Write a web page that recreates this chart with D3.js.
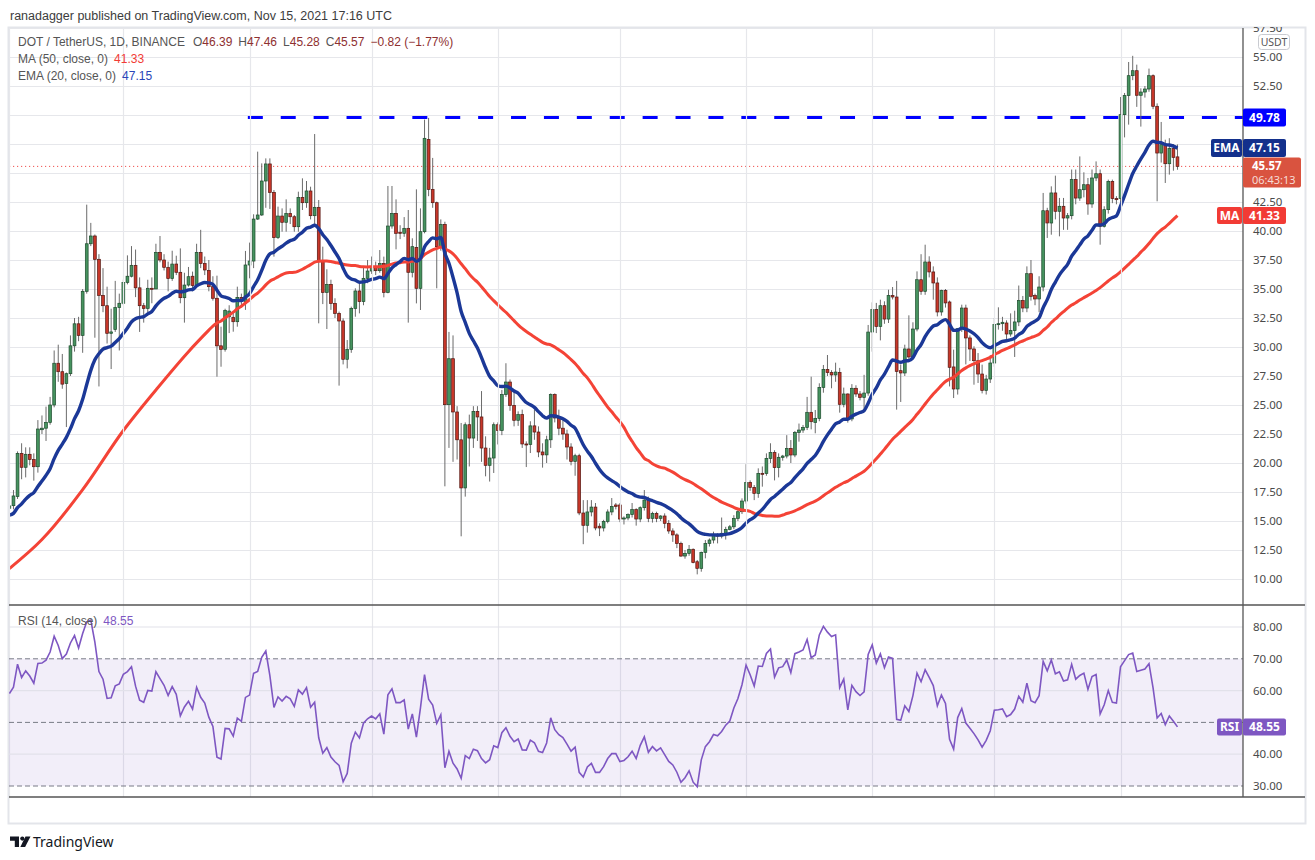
<!DOCTYPE html>
<html><head><meta charset="utf-8">
<script src="https://cdn.jsdelivr.net/npm/d3@7"></script>
<style>
body{margin:0;background:#fff;}
text{font-family:"Noto Sans","Open Sans",sans-serif;}
.lib{font-family:"Liberation Sans","Noto Sans",sans-serif;}
</style>
</head><body>
<svg id="c" width="1315" height="860"></svg>
<script>
// ---------------- DATA ----------------
const startDate = "2021-02-01";
const opens = [
16.1,16.32,17.1,20.83,19.63,20.75,20.3,19.68,22.87,23.0,
23.5,25.0,28.6,27.87,26.85,27.7,30.1,32.0,31.0,34.8,
38.9,39.57,37.56,34.45,33.56,31.18,31.5,33.4,33.77,35.57,
36.1,37.04,35.1,33.56,33.33,35.06,35.0,38.16,37.5,36.87,
35.9,37.15,36.44,34.25,35.34,36.1,35.3,38.16,37.2,36.6,
35.2,34.2,30.1,29.8,32.6,32.56,32.18,34.28,33.91,37.07,
37.41,41.03,41.38,44.31,45.78,43.33,39.43,41.29,40.75,41.52,
41.23,40.37,42.9,42.44,43.45,41.32,42.04,37.36,34.71,35.4,
33.76,32.9,32.24,28.94,29.8,33.33,34.83,33.91,35.92,36.55,
36.93,36.58,37.21,34.71,40.43,41.52,39.89,39.8,40.23,36.44,
38.59,35.06,39.94,47.9,43.59,42.44,38.65,40.57,25.03,28.99,
24.4,22.0,17.85,23.3,22.15,24.45,23.97,21.29,19.8,20.43,
23.3,22.8,25.9,26.98,24.97,23.68,24.17,21.64,21.6,23.2,
22.67,20.95,20.7,22.0,25.9,23.88,23.0,22.5,21.38,20.14,
20.63,15.69,14.63,15.78,16.2,14.55,14.4,14.97,15.78,16.38,
16.38,15.17,15.26,15.55,15.98,15.17,16.15,16.81,15.23,15.66,
15.23,15.43,14.8,14.14,13.8,13.07,11.98,12.21,12.56,11.49,
10.92,12.3,13.07,13.36,13.79,13.7,13.94,14.28,14.5,15.23,
15.8,16.72,18.33,17.9,17.38,19.11,19.1,20.4,20.9,19.6,
20.49,20.6,21.26,20.69,22.64,22.84,23.07,24.37,23.5,23.85,
26.52,28.07,27.79,27.59,27.8,25.06,25.95,23.8,26.44,25.95,
25.66,26.03,31.29,33.22,31.78,33.56,32.41,34.43,34.31,27.96,
27.76,29.83,29.14,31.55,35.8,34.8,37.33,36.47,35.52,33.02,
34.86,33.88,28.28,26.38,31.58,33.36,30.78,29.83,28.82,27.67,
26.26,27.24,28.62,31.93,32.01,32.07,31.12,31.41,32.16,34.0,
33.36,36.32,34.43,34.14,35.17,41.75,40.69,43.28,41.7,42.13,
41.12,41.32,44.43,42.84,43.56,43.99,42.33,44.57,44.94,40.4,
41.84,44.28,42.79,42.79,50.03,51.67,53.39,53.82,51.7,51.98,
52.24,53.39,50.75,46.72,47.44,45.8,47.1,46.39];
const highs = [
16.5,17.67,21.0,21.7,21.35,21.35,20.83,23.7,24.1,24.86,
25.7,29.7,30.2,29.4,27.8,31.0,32.5,32.6,35.0,42.27,
40.7,39.7,38.0,36.8,35.2,33.3,35.7,34.6,35.8,37.9,
38.7,38.4,36.0,33.8,35.8,36.0,38.9,39.57,38.0,37.36,
38.3,37.87,38.5,36.4,36.9,36.5,38.9,40.1,37.8,37.5,
36.1,36.15,31.75,33.3,33.6,33.05,35.2,34.6,38.28,39.0,
41.44,46.84,45.83,46.26,46.26,43.53,42.1,41.95,42.73,41.95,
41.38,43.39,44.54,44.31,43.82,48.36,42.67,38.65,36.7,35.8,
34.2,33.05,32.47,30.6,33.48,35.06,35.49,36.9,37.5,37.8,
37.36,38.36,37.79,43.88,43.88,42.73,40.5,41.2,41.81,39.37,
43.59,41.95,49.6,49.75,46.3,42.53,41.0,40.8,31.3,31.0,
24.9,23.45,23.5,24.17,24.9,24.9,26.2,22.3,21.3,23.5,
23.5,26.3,28.6,27.2,26.3,24.45,24.6,21.87,23.6,24.6,
23.16,21.7,22.35,26.0,26.0,24.6,23.7,22.87,21.7,20.8,
20.8,16.8,16.8,16.8,16.55,14.8,15.1,16.0,16.98,16.55,
16.55,15.4,15.66,16.55,16.1,16.26,17.67,17.1,15.8,15.8,
15.5,15.66,15.08,14.37,13.94,13.22,12.5,12.93,12.64,11.64,
12.36,13.36,13.5,14.08,13.94,15.3,14.5,14.66,15.5,15.95,
16.95,19.9,18.5,18.1,19.54,19.7,20.83,21.7,21.1,20.83,
20.7,22.4,21.98,22.76,23.4,23.28,25.7,27.44,24.57,26.87,
28.45,29.31,28.0,28.65,28.2,26.5,26.0,26.8,26.7,26.2,
27.6,31.9,33.85,33.8,34.08,33.94,34.94,35.17,35.7,28.5,
30.2,32.73,32.13,36.52,38.0,38.82,37.82,36.95,36.0,34.94,
35.0,34.0,29.77,31.64,33.65,33.65,31.0,30.06,29.48,28.48,
27.6,29.3,32.5,33.42,32.6,32.3,32.9,33.13,35.3,34.4,
36.95,37.5,34.6,36.1,43.28,42.0,43.85,44.77,42.85,42.85,
41.55,45.3,45.3,46.43,45.06,44.57,45.3,46.0,45.3,42.13,
44.43,44.43,43.0,51.55,51.9,54.57,55.1,54.34,52.3,52.5,
54.0,53.5,51.0,49.4,47.87,48.0,47.5,47.46];
const lows = [
15.8,16.0,16.9,18.6,18.76,19.8,18.48,19.17,22.5,21.9,
23.3,24.8,27.0,26.4,23.1,27.5,29.6,30.5,29.5,34.6,
38.7,30.8,26.6,33.0,30.3,28.1,31.3,29.7,33.6,35.4,
36.0,34.3,31.3,32.1,33.0,33.77,35.0,37.3,36.6,34.8,
35.7,36.2,33.77,32.1,35.2,34.8,35.2,36.8,36.2,34.8,
34.0,27.44,28.3,29.6,31.2,31.32,31.75,33.4,33.2,35.92,
36.8,40.95,41.3,42.0,41.9,37.79,39.31,39.94,39.94,40.6,
39.94,39.94,41.81,42.0,41.0,40.5,32.04,33.7,31.55,33.2,
32.5,26.67,28.5,28.16,29.5,32.61,32.9,33.6,35.5,36.3,
36.2,36.4,34.28,34.63,40.2,38.42,39.3,39.5,32.1,36.0,
33.76,33.19,39.8,43.0,42.0,35.06,38.3,17.99,21.3,20.1,
20.3,13.68,17.1,19.7,21.3,21.9,20.1,18.85,18.4,19.14,
21.6,22.4,25.7,24.5,23.16,23.2,21.3,19.65,20.86,22.0,
20.5,19.6,20.0,21.3,23.5,22.4,22.0,20.3,19.8,18.9,
15.5,13.0,14.0,15.4,14.2,13.7,14.1,14.8,15.5,16.0,
14.9,14.7,15.06,15.3,14.6,14.9,15.9,14.9,14.86,14.9,
15.0,14.37,13.9,13.2,12.66,11.9,11.75,12.0,11.35,10.4,
10.63,11.78,12.8,13.07,13.07,13.5,13.4,14.2,14.3,15.0,
15.6,16.5,17.6,16.8,17.0,17.96,18.9,20.0,18.5,18.76,
20.2,20.4,20.0,20.5,21.84,22.6,22.84,22.9,22.56,23.6,
26.06,27.5,26.44,27.0,24.34,24.8,23.48,23.6,25.7,25.4,
24.4,25.8,29.6,31.2,30.57,32.0,32.07,34.1,24.6,25.26,
27.5,28.7,28.9,31.35,34.5,34.5,36.0,34.08,32.64,32.7,
33.4,26.6,25.6,25.9,31.3,28.5,28.8,26.75,26.9,26.0,
25.9,26.9,28.3,31.5,31.4,30.5,30.9,29.14,31.8,33.0,
33.0,34.0,33.6,33.0,34.8,39.4,39.68,41.0,39.54,40.1,
40.1,41.0,42.3,42.6,42.9,41.4,42.0,44.3,38.82,40.3,
41.5,42.4,42.3,42.5,48.07,49.17,53.0,50.7,49.0,51.5,
52.0,50.5,42.56,45.9,44.14,44.86,45.2,45.28];
const closes = [
16.3,17.16,20.83,19.63,20.75,20.3,19.68,22.93,23.0,23.5,
25.0,28.6,27.87,26.8,27.7,30.1,32.0,31.0,34.8,38.9,
39.57,37.56,34.45,33.56,31.18,31.3,33.4,33.77,35.57,36.1,
37.04,35.1,33.56,33.33,35.06,35.0,38.16,37.5,36.87,35.9,
37.15,36.44,34.25,35.34,36.06,35.3,38.16,37.2,36.64,35.2,
34.2,30.1,29.8,33.16,33.1,32.18,34.28,33.91,37.07,37.41,
41.03,41.38,44.31,45.78,43.33,39.43,41.29,40.75,41.52,41.23,
40.37,42.9,42.44,43.45,41.32,42.04,37.36,34.71,35.4,33.76,
32.9,32.24,28.94,29.8,33.33,34.83,33.91,35.92,36.55,36.93,
36.58,37.21,34.71,40.43,41.52,39.8,39.8,40.23,36.44,38.65,
35.06,39.94,47.99,43.59,42.44,38.65,40.57,25.03,28.99,24.4,
22.0,17.85,23.3,22.15,24.45,23.97,21.29,19.8,20.43,23.3,
22.8,25.9,26.98,24.97,23.68,24.17,21.64,21.6,23.2,22.67,
20.95,20.7,22.0,25.9,23.88,23.0,22.5,21.38,20.14,20.63,
15.69,14.63,15.78,16.2,14.4,14.4,14.97,15.78,16.26,16.26,
15.17,15.26,15.55,15.98,15.17,16.15,16.81,15.23,15.66,15.23,
15.43,14.8,14.14,13.8,13.07,11.98,12.21,12.56,11.41,10.92,
12.3,13.07,13.36,13.79,13.7,13.94,14.28,14.5,15.23,15.8,
16.72,18.33,17.9,17.38,19.1,19.08,20.4,20.9,19.6,20.49,
20.6,21.26,20.69,22.64,22.84,23.07,24.37,23.56,23.85,26.52,
28.07,27.79,27.59,27.84,25.06,25.95,23.8,26.44,25.95,25.66,
26.03,31.29,33.22,31.78,33.56,32.41,34.43,34.31,27.9,27.76,
29.83,29.14,31.55,35.8,34.8,37.33,36.47,35.52,33.02,34.86,
33.8,28.25,26.38,31.58,33.36,30.78,29.83,28.82,27.67,26.26,
27.24,28.62,31.93,32.01,32.13,31.12,31.41,32.16,34.0,33.36,
36.32,34.37,34.14,35.17,41.75,40.69,43.28,41.7,42.13,41.12,
41.32,44.43,42.84,43.56,43.99,42.33,44.57,44.94,40.4,41.84,
44.28,42.79,42.7,50.03,51.67,53.39,53.82,51.7,51.98,52.24,
53.39,50.75,46.72,47.44,45.8,47.1,46.35,45.57];

// MA(50) before enough history exists: points
const maEarlyDates  = ["2021-02-01","2021-02-09","2021-02-19","2021-03-01","2021-03-09","2021-03-17"];
const maEarlyValues = [10.9, 13.4, 17.7, 22.8, 26.3, 29.6];
const emaStart = 15.5;          // EMA(20) value read at the first candle
const rsiSeedGain = 0.75, rsiSeedLoss = 0.52;   // gives RSI ≈ 59 at first candle
const resistanceLevel = 49.78;
const resistanceStart = "2021-03-31T14:00:00Z";

const priceTicks = [10,12.5,15,17.5,20,22.5,25,27.5,30,32.5,35,37.5,40,42.5,45,47.5,50,52.5,55,57.5];
const rsiTicks = [30,40,50,60,70,80];
const rsiDashed = [30,50,70];
const rsiGrid = [40,60,80];
const monthTicks = ["2021-02-01","2021-03-01","2021-04-01","2021-05-01","2021-06-01","2021-07-01","2021-08-01","2021-09-01","2021-10-01","2021-11-01"];

const headerText = "ranadagger published on TradingView.com, Nov 15, 2021 17:16 UTC";
const symbolText = "DOT / TetherUS, 1D, BINANCE";
const ohlcLabels = ["O","H","L","C"];
const ohlcValues = ["46.39","47.46","45.28","45.57"];
const changeText = "\u22120.82 (\u22121.77%)";
const lastMA = 41.33, lastEMA = 47.15, lastPrice = 45.57, lastRSI = 48.55;
const countdown = "06:43:13";

// ---------------- LAYOUT ----------------
const X0 = 9, XR = 1243, XF = 1305, YT = 28, YP = 605, YR = 797, YB = 823;
const parse = d3.utcParse("%Y-%m-%d");
const d0 = parse(startDate);
const dates = closes.map((_, i) => d3.utcDay.offset(d0, i));
const x = d3.scaleUtc().domain([d0, parse("2021-11-01")]).range([9.4, 1120.5]);
const y = d3.scaleLinear().domain([10, 57.5]).range([579, 28]);
const yr = d3.scaleLinear().domain([30, 80]).range([786, 627]);

// indicators
const alpha = 2 / 21;
const ema = [];
closes.forEach((c, i) => ema.push(i === 0 ? emaStart : alpha * c + (1 - alpha) * ema[i - 1]));
const maPts = maEarlyDates.map((d, k) => [parse(d), maEarlyValues[k]]);
for (let i = 49; i < closes.length; i++) maPts.push([dates[i], d3.mean(closes.slice(i - 49, i + 1))]);
const rsi = [];
{ let g = rsiSeedGain, l = rsiSeedLoss;
  closes.forEach((c, i) => {
    if (i > 0) { const d = c - closes[i - 1]; g = (g * 13 + Math.max(d, 0)) / 14; l = (l * 13 + Math.max(-d, 0)) / 14; }
    rsi.push(100 - 100 / (1 + g / l));
  });
}

const svg = d3.select("#c");
svg.append("rect").attr("width", 1315).attr("height", 860).attr("fill", "#fff");
const defs = svg.append("defs");
defs.append("clipPath").attr("id", "pc").append("rect").attr("x", X0).attr("y", YT).attr("width", XR - X0).attr("height", YP - YT);
defs.append("clipPath").attr("id", "rc").append("rect").attr("x", X0).attr("y", YP).attr("width", XR - X0).attr("height", YR - YP);
defs.append("clipPath").attr("id", "ac").append("rect").attr("x", X0).attr("y", YT - 1).attr("width", XF - X0).attr("height", YB - YT);

// frame
svg.append("rect").attr("x", X0 - 0.5).attr("y", YT - 0.5).attr("width", XF - X0 + 1).attr("height", YB - YT + 1)
  .attr("fill", "none").attr("stroke", "#e3e5ea").attr("stroke-width", 2);

// price grid
const pg = svg.append("g").attr("clip-path", "url(#pc)");
pg.selectAll("line.h").data(priceTicks).join("line")
  .attr("x1", X0).attr("x2", XR).attr("y1", d => Math.round(y(d)) + 0.5).attr("y2", d => Math.round(y(d)) + 0.5)
  .attr("stroke", "#e6e7eb").attr("stroke-width", 1.2);
// vertical month grid (both panes)
svg.append("g").selectAll("line").data(monthTicks.map(parse)).join("line")
  .attr("x1", d => Math.round(x(d)) + 0.5).attr("x2", d => Math.round(x(d)) + 0.5).attr("y1", YT).attr("y2", YR)
  .attr("stroke", "#e6e7eb").attr("stroke-width", 1.2);

// RSI background band + lines
const rg = svg.append("g").attr("clip-path", "url(#rc)");
rg.append("rect").attr("x", X0).attr("width", XR - X0).attr("y", yr(70)).attr("height", yr(30) - yr(70)).attr("fill", "rgba(126,87,194,0.10)");
rg.selectAll("line.g").data(rsiGrid).join("line").attr("class", "g")
  .attr("x1", X0).attr("x2", XR).attr("y1", d => yr(d)).attr("y2", d => yr(d)).attr("stroke", "#e2e1ea").attr("stroke-width", 1.2);
rg.selectAll("line.d").data(rsiDashed).join("line").attr("class", "d")
  .attr("x1", X0).attr("x2", XR).attr("y1", d => yr(d)).attr("y2", d => yr(d))
  .attr("stroke", "#787b86").attr("stroke-width", 1).attr("stroke-dasharray", "5,3");
rg.append("path").datum(rsi).attr("fill", "none").attr("stroke", "#7e57c2").attr("stroke-width", 1.6)
  .attr("d", d3.line().x((d, i) => x(dates[i])).y(d => yr(d)));

// resistance and last-price lines
pg.append("line").attr("x1", x(new Date(resistanceStart))).attr("x2", XR).attr("y1", y(resistanceLevel)).attr("y2", y(resistanceLevel))
  .attr("stroke", "#0000ff").attr("stroke-width", 3).attr("stroke-dasharray", "15,17.9");
pg.append("line").attr("x1", X0).attr("x2", XR).attr("y1", y(lastPrice)).attr("y2", y(lastPrice))
  .attr("stroke", "#ef5350").attr("stroke-width", 1).attr("stroke-dasharray", "1.2,2.8");

// candles
const cg = pg.append("g");
const idx = d3.range(closes.length);
cg.selectAll("line.w").data(idx).join("line").attr("class", "w")
  .attr("x1", i => x(dates[i])).attr("x2", i => x(dates[i]))
  .attr("y1", i => y(highs[i])).attr("y2", i => y(lows[i]))
  .attr("stroke", "#6b6b6b").attr("stroke-width", 1);
cg.selectAll("rect.b").data(idx).join("rect").attr("class", "b")
  .attr("x", i => x(dates[i]) - 1.4).attr("width", 2.8)
  .attr("y", i => y(Math.max(opens[i], closes[i])))
  .attr("height", i => Math.max(1, Math.abs(y(opens[i]) - y(closes[i]))))
  .attr("fill", i => closes[i] >= opens[i] ? "#46935f" : "#c8372a")
  .attr("stroke", i => closes[i] >= opens[i] ? "#1c4a2c" : "#531610").attr("stroke-width", 0.7);

// moving averages
pg.append("path").datum(maPts).attr("fill", "none").attr("stroke", "#f44336").attr("stroke-width", 3)
  .attr("d", d3.line().curve(d3.curveMonotoneX).x(d => x(d[0])).y(d => y(d[1])));
pg.append("path").datum(ema).attr("fill", "none").attr("stroke", "#1b3897").attr("stroke-width", 3.4)
  .attr("d", d3.line().curve(d3.curveMonotoneX).x((d, i) => x(dates[i])).y(d => y(d)));

// pane separators
svg.append("line").attr("x1", X0).attr("x2", XF).attr("y1", YP).attr("y2", YP).attr("stroke", "#555").attr("stroke-width", 1.3);
svg.append("line").attr("x1", X0).attr("x2", XF).attr("y1", YR).attr("y2", YR).attr("stroke", "#555").attr("stroke-width", 1.3);
svg.append("line").attr("x1", XR).attr("x2", XR).attr("y1", YT).attr("y2", YR).attr("stroke", "#555").attr("stroke-width", 1.3);

// price axis labels (skip those hidden behind tags)
const tagBoxes = [[y(resistanceLevel) - 9, y(resistanceLevel) + 9], [y(lastEMA) - 9, y(lastEMA) + 9], [y(lastPrice) - 9, y(lastPrice) + 21], [y(lastMA) - 9, y(lastMA) + 9]];
const visibleTicks = priceTicks.filter(t => !tagBoxes.some(b => y(t) > b[0] - 4 && y(t) < b[1] + 4));
const ax = svg.append("g").attr("clip-path", "url(#ac)").attr("transform", `translate(${XR},0)`)
  .call(d3.axisRight(y).tickValues(visibleTicks).tickSize(0).tickPadding(10).tickFormat(d3.format(".2f")));
ax.select(".domain").remove();
ax.selectAll("text").attr("fill", "#4a4a4a").style("font-size", "11.5px").style("font-family", '"Noto Sans",sans-serif');

const axr = svg.append("g").attr("transform", `translate(${XR},0)`)
  .call(d3.axisRight(yr).tickValues(rsiTicks).tickSize(0).tickPadding(10).tickFormat(d3.format(".2f")));
axr.select(".domain").remove();
axr.selectAll("text").attr("fill", "#4a4a4a").style("font-size", "11.5px").style("font-family", '"Noto Sans",sans-serif');

// USDT box
svg.append("rect").attr("x", 1258.5).attr("y", 34.5).attr("width", 31).attr("height", 15).attr("rx", 3)
  .attr("fill", "#fff").attr("stroke", "#c9cbd1");
svg.append("text").attr("x", 1274).attr("y", 45.5).attr("text-anchor", "middle").attr("fill", "#555").style("font-size", "10.5px").text("USDT");

// tags
function tag(x0, x1, yc, h, fill, label) {
  svg.append("rect").attr("x", x0).attr("y", yc - h / 2).attr("width", x1 - x0).attr("height", h).attr("rx", 2).attr("fill", fill);
  svg.append("text").attr("x", x0 + (x1 - x0) / 2).attr("y", yc + 4.2).attr("text-anchor", "middle")
    .attr("fill", "#fff").style("font-size", "12px").style("font-weight", "700").text(label);
}
tag(XR, 1286, y(resistanceLevel), 18, "#0000ff", d3.format(".2f")(resistanceLevel));
tag(1211, XR - 1, y(lastEMA), 18, "#13308c", "EMA");
tag(XR, 1286, y(lastEMA), 18, "#13308c", d3.format(".2f")(lastEMA));
// last price tag with countdown
svg.append("rect").attr("x", XR).attr("y", y(lastPrice) - 9).attr("width", 58).attr("height", 30).attr("rx", 2).attr("fill", "#d9533f");
svg.append("text").attr("x", XR + 9).attr("y", y(lastPrice) + 3.6).attr("fill", "#fff").style("font-size", "11.5px").style("font-weight", "700").text(d3.format(".2f")(lastPrice));
svg.append("text").attr("x", XR + 9).attr("y", y(lastPrice) + 18).attr("fill", "#f6dcd6").style("font-size", "11px").text(countdown);
tag(1217, XR - 1, y(lastMA), 17, "#f23b35", "MA");
tag(XR, 1286, y(lastMA), 17, "#f23b35", d3.format(".2f")(lastMA));
tag(1217, XR - 1, yr(lastRSI), 17, "#7e57c2", "RSI");
tag(XR, 1286, yr(lastRSI), 17, "#7e57c2", d3.format(".2f")(lastRSI));

// legends
const lg = svg.append("text").attr("class", "lib").attr("x", 18).attr("y", 46).style("font-size", "12px").attr("fill", "#555");
lg.append("tspan").text(symbolText);
ohlcLabels.forEach((l, k) => {
  lg.append("tspan").attr("dx", k === 0 ? 8 : 6).text(l);
  lg.append("tspan").attr("fill", "#8e3030").text(ohlcValues[k]);
});
lg.append("tspan").attr("dx", 6).attr("fill", "#8e3030").text(changeText);
const l2 = svg.append("text").attr("class", "lib").attr("x", 18).attr("y", 63).style("font-size", "12px").attr("fill", "#555");
l2.append("tspan").text("MA (50, close, 0)");
l2.append("tspan").attr("dx", 6).attr("fill", "#f23b35").text(d3.format(".2f")(lastMA));
const l3 = svg.append("text").attr("class", "lib").attr("x", 18).attr("y", 80).style("font-size", "12px").attr("fill", "#555");
l3.append("tspan").text("EMA (20, close, 0)");
l3.append("tspan").attr("dx", 6).attr("fill", "#2a45b8").text(d3.format(".2f")(lastEMA));
const l4 = svg.append("text").attr("class", "lib").attr("x", 18).attr("y", 625).style("font-size", "12px").attr("fill", "#555");
l4.append("tspan").text("RSI (14, close)");
l4.append("tspan").attr("dx", 6).attr("fill", "#7e57c2").text(d3.format(".2f")(lastRSI));

// time axis
const at = svg.append("g").attr("clip-path", "url(#ac)").attr("transform", `translate(0,${YR})`)
  .call(d3.axisBottom(x).tickValues(monthTicks.map(parse)).tickSize(0).tickPadding(9).tickFormat(d3.utcFormat("%b")));
at.select(".domain").remove();
at.selectAll("text").attr("fill", "#4a4a4a").style("font-size", "12px").style("font-family", '"Noto Sans",sans-serif');

// header + logo
svg.append("text").attr("class", "lib").attr("x", 10).attr("y", 20).attr("fill", "#3c3c3c").style("font-size", "12.5px").text(headerText);
const logo = svg.append("g").attr("fill", "#131722");
logo.append("path").attr("d", "M10,836.5 h9 v10.5 h-4.2 v-6.3 h-4.8 z");
logo.append("circle").attr("cx", 22.3).attr("cy", 838.6).attr("r", 2.1);
logo.append("path").attr("d", "M25.5,836.5 h5 l-5.4,10.5 h-4.8 z");
svg.append("text").attr("x", 33).attr("y", 847).attr("fill", "#131722").style("font-size", "14px").text("TradingView");
</script>
</body></html>
